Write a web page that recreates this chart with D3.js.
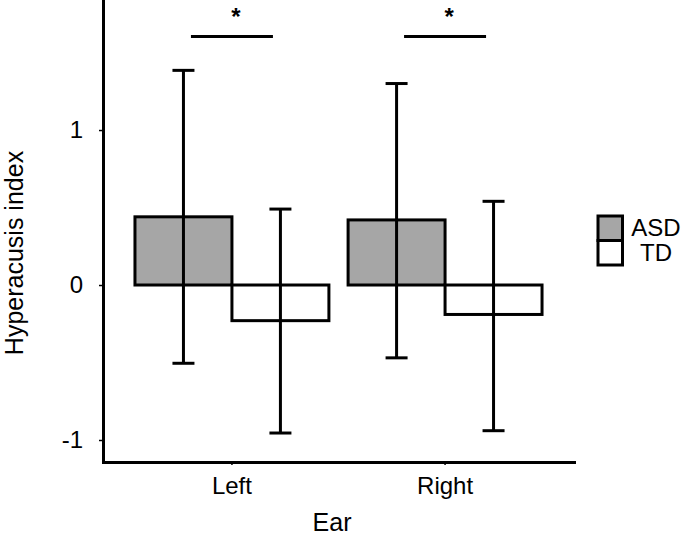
<!DOCTYPE html>
<html>
<head>
<meta charset="utf-8">
<script src="https://cdn.jsdelivr.net/npm/d3@7"></script>
<style>
  body { margin: 0; background: #fff; }
  svg { display: block; font-family: 'Liberation Sans', Arial, sans-serif; }
</style>
</head>
<body>
<div id="chart"></div>
<script>
// data
const ears = ['Left', 'Right'];
const groups = ['ASD', 'TD'];
const asdMean = [0.44, 0.42];
const asdLow = [-0.505, -0.47];
const asdHigh = [1.385, 1.3];
const tdMean = [-0.23, -0.19];
const tdLow = [-0.955, -0.94];
const tdHigh = [0.49, 0.54];
const sigMarks = ['*', '*'];
const yTicks = [-1, 0, 1];

const width = 685;
const height = 547;
const fills = { ASD: '#a6a6a6', TD: '#ffffff' };

const rows = [];
ears.forEach((e, i) => {
  rows.push({ ear: e, group: 'ASD', mean: asdMean[i], lo: asdLow[i], hi: asdHigh[i] });
  rows.push({ ear: e, group: 'TD', mean: tdMean[i], lo: tdLow[i], hi: tdHigh[i] });
});

const x = d3.scaleBand().domain(ears).range([103, 574]).paddingInner(0.09).paddingOuter(0.15);
const xg = d3.scaleBand().domain(groups).range([0, x.bandwidth()]);
const y = d3.scaleLinear().domain([-1.142, 1.839]).range([462, 0]);

const svg = d3.select('#chart').append('svg')
  .attr('width', width)
  .attr('height', height);

// bars
svg.append('g')
  .selectAll('rect')
  .data(rows)
  .join('rect')
  .attr('x', (d) => x(d.ear) + xg(d.group))
  .attr('width', xg.bandwidth())
  .attr('y', (d) => y(Math.max(0, d.mean)))
  .attr('height', (d) => Math.abs(y(d.mean) - y(0)))
  .attr('fill', (d) => fills[d.group])
  .attr('stroke', '#000')
  .attr('stroke-width', 3);

// error bars
const capW = 22;
const err = svg.append('g').attr('stroke', '#000').attr('stroke-width', 3);
rows.forEach((d) => {
  const cx = x(d.ear) + xg(d.group) + xg.bandwidth() / 2;
  err.append('line').attr('x1', cx).attr('x2', cx).attr('y1', y(d.lo)).attr('y2', y(d.hi));
  err.append('line').attr('x1', cx - capW / 2).attr('x2', cx + capW / 2).attr('y1', y(d.hi)).attr('y2', y(d.hi));
  err.append('line').attr('x1', cx - capW / 2).attr('x2', cx + capW / 2).attr('y1', y(d.lo)).attr('y2', y(d.lo));
});

// significance brackets
ears.forEach((e, i) => {
  const cx = x(e) + x.bandwidth() / 2;
  svg.append('line')
    .attr('x1', cx - 41).attr('x2', cx + 41)
    .attr('y1', 36.5).attr('y2', 36.5)
    .attr('stroke', '#000').attr('stroke-width', 3);
  svg.append('text')
    .attr('x', cx + 4).attr('y', 25)
    .attr('text-anchor', 'middle')
    .style('font-size', '24px')
    .style('font-weight', 'bold')
    .text(sigMarks[i]);
});

// axes
const yAxis = svg.append('g')
  .attr('transform', 'translate(103,0)')
  .call(d3.axisLeft(y).tickValues(yTicks).tickFormat((d) => d).tickSize(4).tickSizeOuter(0).tickPadding(16));
const xAxis = svg.append('g')
  .attr('transform', 'translate(0,462)')
  .call(d3.axisBottom(x).tickSize(3).tickSizeOuter(0).tickPadding(12));

[yAxis, xAxis].forEach((a) => {
  a.select('.domain').attr('stroke-width', 3).attr('stroke-linecap', 'square');
  a.selectAll('.tick line').attr('stroke-width', 1.5);
  a.selectAll('.tick text').style('font-size', '24px').attr('fill', '#000')
    .style('font-family', "'Liberation Sans', Arial, sans-serif");
});

// axis titles
svg.append('text')
  .attr('transform', 'translate(23,253) rotate(-90)')
  .attr('text-anchor', 'middle')
  .style('font-size', '25px')
  .text('Hyperacusis index');
svg.append('text')
  .attr('x', 332).attr('y', 531)
  .attr('text-anchor', 'middle')
  .style('font-size', '25px')
  .text('Ear');

// legend
const legend = svg.append('g').attr('transform', 'translate(598,216)');
groups.forEach((g, i) => {
  legend.append('rect')
    .attr('x', 0).attr('y', i * 24.5)
    .attr('width', 24.5).attr('height', 24.5)
    .attr('fill', fills[g])
    .attr('stroke', '#000').attr('stroke-width', 3);
  legend.append('text')
    .attr('x', 58).attr('y', i * 24.5 + 20)
    .attr('text-anchor', 'middle')
    .style('font-size', '24px')
    .text(g);
});
</script>
</body>
</html>
